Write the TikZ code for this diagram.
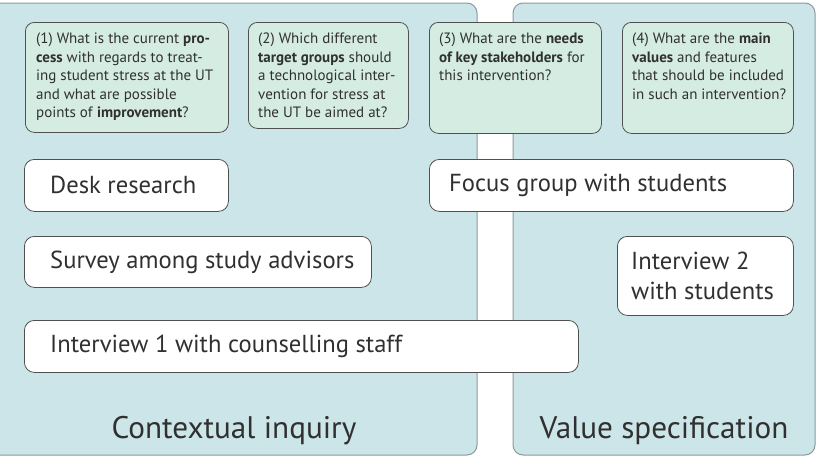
\documentclass[tikz,border=0pt]{standalone}
\usepackage{fontspec}
\setmainfont{PT Sans}
\definecolor{panelfill}{HTML}{CCE5E8}
\definecolor{panelline}{HTML}{8C9A9C}
\definecolor{qfill}{HTML}{D5ECE2}
\definecolor{boxline}{HTML}{505050}
\definecolor{txt}{HTML}{303030}
\begin{document}
\begin{tikzpicture}[x=1pt,y=-1pt,
  panel/.style={fill=panelfill,draw=panelline,line width=1pt,rounded corners=10pt},
  qbox/.style={draw=boxline,fill=qfill,line width=0.8pt,rounded corners=9pt,inner sep=0pt,anchor=north west},
  wbox/.style={draw=boxline,fill=white,line width=0.8pt,rounded corners=10pt,inner sep=0pt,anchor=north west},
  qtext/.style={anchor=north west,align=left,inner sep=0pt,text=txt,font=\fontsize{15}{18.5}\selectfont},
  btext/.style={anchor=west,align=left,inner sep=0pt,text=txt,font=\fontsize{24.6}{30}\selectfont},
  ttext/.style={anchor=base,inner sep=0pt,text=txt,font=\fontsize{31.2}{36}\selectfont}]
\useasboundingbox (0,0) rectangle (817,464);
\fill[white] (0,0) rectangle (817,464);
% panels
\draw[panel] (-12,3) rectangle (477,455);
\draw[panel] (513,3) rectangle (815,455);
% question boxes
\node[qbox,minimum width=203pt,minimum height=110pt] (q1) at (25,22) {};
\node[qbox,minimum width=160pt,minimum height=106pt] (q2) at (248,22) {};
\node[qbox,minimum width=172pt,minimum height=111pt] (q3) at (429,22) {};
\node[qbox,minimum width=171pt,minimum height=111pt] (q4) at (622,22) {};
\node[qtext] (q1t) at ([shift={(11pt,-11pt)}]q1.north west) {(1) What is the current \textbf{pro-}\\\textbf{cess} with regards to treat-\\ing student stress at the UT\\and what are possible\\points of \textbf{improvement}?};
\node[qtext] (q2t) at ([shift={(10pt,-11pt)}]q2.north west) {(2) Which different\\\textbf{target groups} should\\a technological inter-\\vention for stress at\\the UT be aimed at?};
\node[qtext] (q3t) at ([shift={(10pt,-11pt)}]q3.north west) {(3) What are the \textbf{needs}\\\textbf{of key stakeholders} for\\this intervention?};
\node[qtext] (q4t) at ([shift={(10pt,-11pt)}]q4.north west) {(4) What are the \textbf{main}\\\textbf{values} and features\\that should be included\\in such an intervention?};
% method boxes
\node[wbox,minimum width=204pt,minimum height=52pt] (desk) at (24,159) {};
\node[btext] at ([xshift=26pt]desk.west) {Desk research};
\node[wbox,minimum width=347pt,minimum height=51pt] (survey) at (24,236) {};
\node[btext] at ([xshift=26pt]survey.west) {Survey among study advisors};
\node[wbox,minimum width=554pt,minimum height=52pt] (int1) at (24,320) {};
\node[btext] at ([xshift=26pt]int1.west) {Interview 1 with counselling staff};
\node[wbox,minimum width=364pt,minimum height=52pt] (focus) at (429,159) {};
\node[btext] at ([xshift=20pt]focus.west) {Focus group with students};
\node[wbox,minimum width=176pt,minimum height=79pt] (int2) at (617,236) {};
\node[btext] at ([xshift=14pt]int2.west) {Interview 2\\with students};
% titles
\node[ttext] (t1) at (234,438) {Contextual inquiry};
\node[ttext] (t2) at (664,438) {Value specification};
\end{tikzpicture}
\end{document}
